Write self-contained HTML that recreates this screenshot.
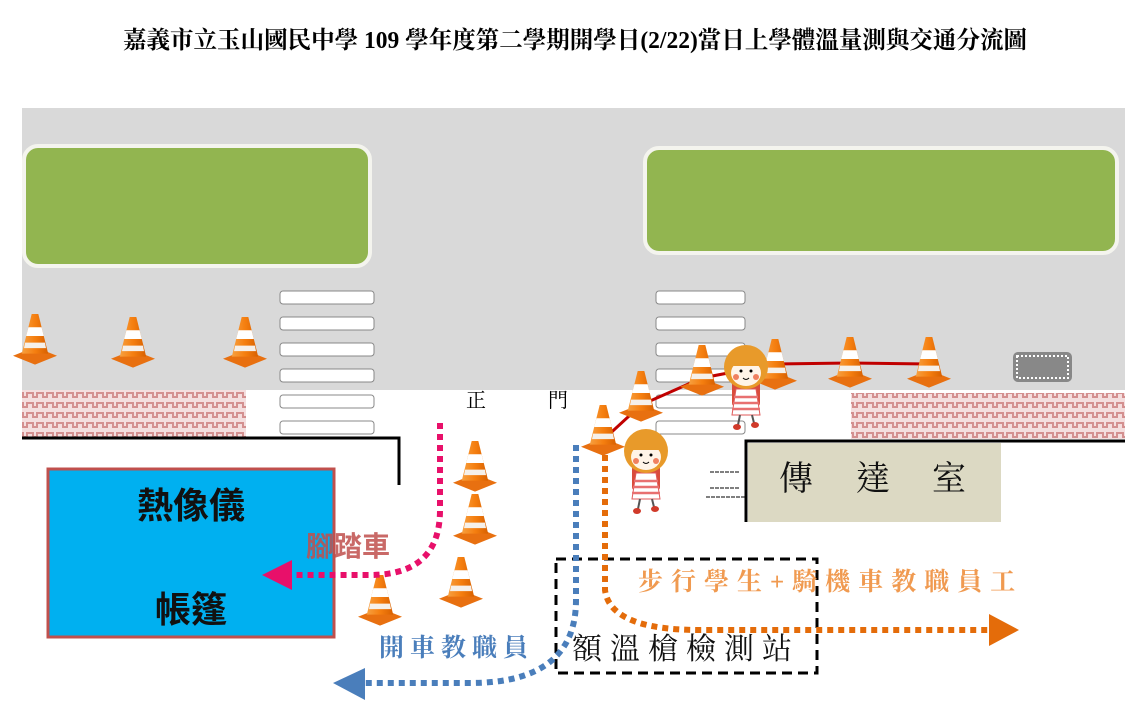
<!DOCTYPE html>
<html><head><meta charset="utf-8"><style>
html,body{margin:0;padding:0;background:#fff;}
svg{display:block;}
</style></head><body>
<svg width="1148" height="720" viewBox="0 0 1148 720" xmlns="http://www.w3.org/2000/svg">
<defs>
<pattern id="brick" width="10" height="10" patternUnits="userSpaceOnUse">
<rect width="10" height="10" fill="#f4dede"/>
<path d="M0 3 h3 v4 h4 v-4 h3" stroke="#d49090" stroke-width="2" fill="none"/>
</pattern>
<linearGradient id="cg" x1="0" x2="1"><stop offset="0" stop-color="#f7a040"/><stop offset="0.5" stop-color="#f57f10"/><stop offset="1" stop-color="#d86000"/></linearGradient>
<g id="cone0">
<path d="M-20 38 L0 46 L20 38 L0 30 Z" fill="#e87010"/>
<path d="M-3 0 L3 0 L12 36 L-12 36 Z" fill="url(#cg)"/>
<path d="M-6 12 L6 12 L8 20 L-8 20 Z" fill="#fff"/>
<path d="M-9 26 L9 26 L10 31 L-10 31 Z" fill="#f5f0ea"/>
</g>
<g id="cone"><use href="#cone0" transform="scale(1.1)"/></g>
<g id="girl">
<rect x="-14" y="10" width="28" height="30" rx="4" fill="#d94c3c"/>
<path d="M-10 22 L10 22 L14 48 L-14 48 Z" fill="#fff" stroke="#e05a5a" stroke-width="1"/>
<path d="M-12 30 H12 M-13 36 H13 M-14 42 H14" stroke="#e87070" stroke-width="2.5"/>
<circle cx="0" cy="0" r="22" fill="#e89a2a"/>
<ellipse cx="0" cy="6" rx="15" ry="13" fill="#fff4e8"/>
<rect x="-15" y="-10" width="30" height="9" fill="#e89a2a"/>
<circle cx="-5" cy="4" r="1.5" fill="#000"/><circle cx="5" cy="4" r="1.5" fill="#000"/>
<circle cx="-10" cy="10" r="3" fill="#f08060"/><circle cx="10" cy="10" r="3" fill="#f08060"/>
<path d="M-3 11 Q0 14 3 11" stroke="#000" fill="none"/>
<path d="M-6 48 L-8 58 M6 48 L8 56" stroke="#555" stroke-width="2"/>
<ellipse cx="-9" cy="60" rx="4" ry="3" fill="#d03a2a"/><ellipse cx="9" cy="58" rx="4" ry="3" fill="#d03a2a"/>
</g>
</defs>

<text x="123" y="48" textLength="904" lengthAdjust="spacingAndGlyphs" font-family="'Liberation Serif','Noto Serif CJK SC',serif" font-weight="bold" font-size="24" fill="#000">嘉義市立玉山國民中學 109 學年度第二學期開學日(2/22)當日上學體溫量測與交通分流圖</text>

<rect x="22" y="108" width="1103" height="282" fill="#d9d9d9"/>

<rect x="24" y="146" width="346" height="120" rx="14" fill="#92b550" stroke="#f4f4ee" stroke-width="4"/>
<rect x="645" y="148" width="472" height="105" rx="14" fill="#92b550" stroke="#f4f4ee" stroke-width="4"/>

<g fill="#fff" stroke="#888" stroke-width="1">
<rect x="280" y="291" width="94" height="13" rx="3"/><rect x="280" y="317" width="94" height="13" rx="3"/>
<rect x="280" y="343" width="94" height="13" rx="3"/><rect x="280" y="369" width="94" height="13" rx="3"/>
<rect x="280" y="395" width="94" height="13" rx="3"/><rect x="280" y="421" width="94" height="13" rx="3"/>
<rect x="656" y="291" width="89" height="13" rx="3"/><rect x="656" y="317" width="89" height="13" rx="3"/>
<rect x="656" y="343" width="89" height="13" rx="3"/><rect x="656" y="369" width="89" height="13" rx="3"/>
<rect x="656" y="395" width="89" height="13" rx="3"/><rect x="656" y="421" width="89" height="13" rx="3"/>
</g>

<rect x="22" y="390" width="224" height="48" fill="url(#brick)"/>
<rect x="851" y="393" width="274" height="46" fill="url(#brick)"/>

<path d="M22 438 H399 V485" stroke="#000" stroke-width="3" fill="none"/>
<path d="M1125 441 H746 V522" stroke="#000" stroke-width="3" fill="none"/>
<path d="M706 497 H746 M710 472 H740 M710 488 H740" stroke="#000" stroke-width="1" stroke-dasharray="4 1"/>

<rect x="1013" y="352" width="59" height="30" rx="5" fill="#888"/>
<rect x="1017" y="356" width="51" height="22" fill="none" stroke="#fff" stroke-width="2" stroke-dasharray="2 2"/>

<text x="466" y="407" font-family="'Liberation Serif','Noto Serif CJK TC',serif" font-size="20">正</text>
<text x="548" y="407" font-family="'Liberation Serif','Noto Serif CJK TC',serif" font-size="20">門</text>

<rect x="748" y="443" width="253" height="79" fill="#dcd9c3"/>
<text x="779" y="490" font-family="'Liberation Serif','Noto Serif CJK TC',serif" font-size="34" fill="#111">傳</text>
<text x="856" y="490" font-family="'Liberation Serif','Noto Serif CJK TC',serif" font-size="34" fill="#111">達</text>
<text x="932" y="490" font-family="'Liberation Serif','Noto Serif CJK TC',serif" font-size="34" fill="#111">室</text>

<rect x="48" y="469" width="286" height="168" fill="#00b0f0" stroke="#c0504d" stroke-width="3"/>
<text x="191" y="518" text-anchor="middle" font-family="'Liberation Sans','Noto Sans CJK TC',sans-serif" font-size="36" font-weight="bold" fill="#111">熱像儀</text>
<text x="191" y="622" text-anchor="middle" font-family="'Liberation Sans','Noto Sans CJK TC',sans-serif" font-size="36" font-weight="bold" fill="#111">帳篷</text>

<rect x="556" y="559" width="261" height="114" fill="none" stroke="#000" stroke-width="3" stroke-dasharray="10 6"/>
<text x="572" y="659" font-family="'Liberation Serif','Noto Serif CJK TC',serif" font-size="30" letter-spacing="8" fill="#111">額溫槍檢測站</text>

<polyline points="603,440 641,405 702,378 775,364 850,363 929,364" fill="none" stroke="#c00000" stroke-width="3"/>

<use href="#cone" x="35" y="314"/>
<use href="#cone" x="133" y="317"/>
<use href="#cone" x="245" y="317"/>
<use href="#cone" x="475" y="441"/>
<use href="#cone" x="475" y="494"/>
<use href="#cone" x="461" y="557"/>
<use href="#cone" x="380" y="575"/>
<use href="#cone" x="603" y="405"/>
<use href="#cone" x="641" y="371"/>
<use href="#cone" x="702" y="345"/>
<use href="#cone" x="775" y="339"/>
<use href="#cone" x="850" y="337"/>
<use href="#cone" x="929" y="337"/>

<use href="#girl" x="746" y="367"/>
<use href="#girl" x="646" y="451"/>

<path d="M440 423 V510 Q440 575 370 575 H292" fill="none" stroke="#e8106a" stroke-width="6" stroke-dasharray="6 5"/>
<path d="M262 575 L292 560 L292 590 Z" fill="#e8106a"/>
<path d="M576 445 V600 Q576 683 470 683 H365" fill="none" stroke="#4a7ebb" stroke-width="6" stroke-dasharray="6 5"/>
<path d="M333 683 L365 668 L365 700 Z" fill="#4a7ebb"/>
<path d="M605 455 V590 Q610 630 700 630 H990" fill="none" stroke="#e46c0a" stroke-width="6" stroke-dasharray="6 5"/>
<path d="M1019 630 L989 614 L989 646 Z" fill="#e46c0a"/>

<text x="306" y="556" font-family="'Liberation Sans','Noto Sans CJK TC',sans-serif" font-size="28" font-weight="bold" fill="#c0504d" opacity="0.85">腳踏車</text>
<text x="379" y="656" font-family="'Liberation Serif','Noto Serif CJK TC',serif" font-size="25" font-weight="bold" letter-spacing="6" fill="#4a7ebb">開車教職員</text>
<text x="638" y="590" font-family="'Liberation Serif','Noto Serif CJK TC',serif" font-size="25" font-weight="bold" letter-spacing="8" fill="#f09a50">步行學生+騎機車教職員工</text>
</svg>
</body></html>
